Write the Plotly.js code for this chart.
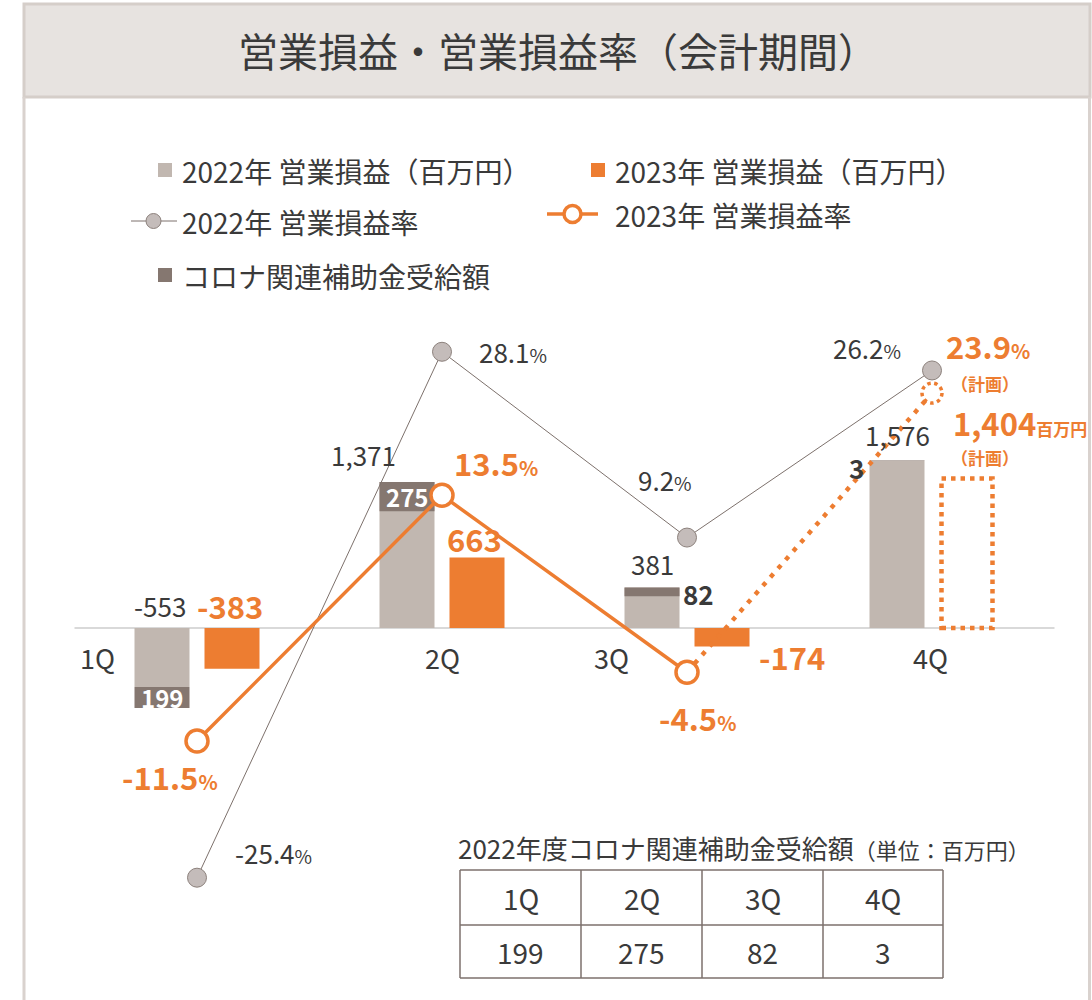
<!DOCTYPE html>
<html>
<head>
<meta charset="utf-8">
<script src="https://cdn.plot.ly/plotly-3.0.1.min.js"></script>
<style>html,body{margin:0;padding:0;background:#fff;}#chart{width:1092px;height:1000px;}</style>
</head>
<body>
<div id="chart"></div>
<script>
// ---- data ----
const quarters = ['1Q', '2Q', '3Q', '4Q'];
const income2022 = [-553, 1371, 381, 1576];
const income2023 = [-383, 663, -174, null];
const plan2023Q4 = 1404;
const subsidy2022 = [199, 275, 82, 3];
const rate2022 = [-25.4, 28.1, 9.2, 26.2];
const rate2023 = [-11.5, 13.5, -4.5, null];
const planRate2023Q4 = 23.9;

// ---- style ----
const W = 1092, H = 1000;
const FONT = '"Noto Sans CJK JP", "Noto Sans", sans-serif';
const ORANGE = '#ED7D31';
const GRAY22 = '#c1b7b0';
const DARK = '#857770';
const TXT = '#3a3a3a';
const px = v => v / W;
const py = v => 1 - v / H;
const fmt = v => v.toLocaleString('en-US');
const xs = quarters.map((q, i) => i);
const BW = 55 / 245, OFF22 = -62.5 / 245, OFF23 = 7.5 / 245;
const c22 = i => i + OFF22 + BW / 2;
const c23 = i => i + OFF23 + BW / 2;

const traces = [];
traces.push({type: 'bar', x: xs, y: income2022, width: BW, offset: OFF22,
  marker: {color: GRAY22}, name: '2022年 営業損益（百万円）', showlegend: false});
traces.push({type: 'bar', x: xs,
  y: subsidy2022.map((s, i) => income2022[i] >= 0 ? s : -s),
  base: subsidy2022.map((s, i) => income2022[i] >= 0 ? income2022[i] - s : income2022[i]),
  width: BW, offset: OFF22, marker: {color: DARK}, name: 'コロナ関連補助金受給額', showlegend: false});
traces.push({type: 'bar', x: xs, y: income2023, width: BW, offset: OFF23,
  marker: {color: ORANGE}, name: '2023年 営業損益（百万円）', showlegend: false});
traces.push({type: 'scatter', mode: 'lines+markers', x: xs, y: rate2022, yaxis: 'y2',
  line: {color: '#7d716c', width: 1},
  marker: {size: 19, color: '#c4bcba', line: {color: '#8c817c', width: 1}},
  name: '2022年 営業損益率', showlegend: false});
traces.push({type: 'scatter', mode: 'lines', x: [2, 3], y: [rate2023[2], planRate2023Q4], yaxis: 'y2',
  line: {color: ORANGE, width: 4.5, dash: '4.5px,7px'}, showlegend: false});
traces.push({type: 'scatter', mode: 'lines+markers', x: xs, y: rate2023, yaxis: 'y2',
  line: {color: ORANGE, width: 3.5},
  marker: {size: 22, color: '#fff', line: {color: ORANGE, width: 3.5}},
  name: '2023年 営業損益率', showlegend: false});

const shapes = [];
// frame
shapes.push({type: 'rect', xref: 'paper', yref: 'paper', x0: px(24), x1: px(1090), y0: py(97), y1: py(4),
  fillcolor: '#e7e3e0', line: {color: '#d5cec9', width: 3}, layer: 'below'});
shapes.push({type: 'line', xref: 'paper', yref: 'paper', x0: px(24), x1: px(24), y0: py(97), y1: py(1000),
  line: {color: '#d9d2ce', width: 3}});
shapes.push({type: 'line', xref: 'paper', yref: 'paper', x0: px(1089.5), x1: px(1089.5), y0: py(97), y1: py(1000),
  line: {color: '#d9d2ce', width: 3}});
// zero line
shapes.push({type: 'line', xref: 'x', yref: 'y', x0: -0.5, x1: 3.5, y0: 0, y1: 0,
  line: {color: '#d9d9d9', width: 2}, layer: 'below'});
// planned 4Q bar (dotted)
shapes.push({type: 'rect', xref: 'x', yref: 'y', x0: 3 + OFF23 + 2 / 245, x1: 3 + OFF23 + BW - 2 / 245, y0: 0, y1: plan2023Q4,
  line: {color: ORANGE, width: 4.5, dash: '4.5px,5px'}});
// planned rate marker (dotted circle)
shapes.push({type: 'circle', xref: 'x', yref: 'y2', xsizemode: 'pixel', ysizemode: 'pixel',
  xanchor: 3, yanchor: planRate2023Q4, x0: -10, x1: 10, y0: -10, y1: 10,
  fillcolor: '#fff', line: {color: ORANGE, width: 3.5, dash: '3.5px,3.5px'}});

// legend symbols
const sq = (x, y, color) => shapes.push({type: 'rect', xref: 'paper', yref: 'paper',
  x0: px(x), x1: px(x + 14), y0: py(y + 7), y1: py(y - 7), fillcolor: color, line: {width: 0}});
sq(158, 170, GRAY22);
sq(591, 170, ORANGE);
sq(158, 275, DARK);
shapes.push({type: 'line', xref: 'paper', yref: 'paper', x0: px(131), x1: px(177), y0: py(221), y1: py(221),
  line: {color: '#7d716c', width: 1}});
shapes.push({type: 'circle', xref: 'paper', yref: 'paper', x0: px(146), x1: px(161), y0: py(228.5), y1: py(213.5),
  fillcolor: '#c4bcba', line: {color: '#8c817c', width: 1}});
shapes.push({type: 'line', xref: 'paper', yref: 'paper', x0: px(547), x1: px(598), y0: py(214), y1: py(214),
  line: {color: ORANGE, width: 3.5}});
shapes.push({type: 'circle', xref: 'paper', yref: 'paper', x0: px(564), x1: px(581), y0: py(222.5), y1: py(205.5),
  fillcolor: '#fff', line: {color: ORANGE, width: 3.5}});

// table grid
const tx = [460, 581, 702, 823, 943], ty = [870, 925, 978];
tx.forEach(x => shapes.push({type: 'line', xref: 'paper', yref: 'paper', x0: px(x), x1: px(x), y0: py(ty[0]), y1: py(ty[2]),
  line: {color: '#7d716c', width: 1.5}}));
ty.forEach(y => shapes.push({type: 'line', xref: 'paper', yref: 'paper', x0: px(tx[0]), x1: px(tx[4]), y0: py(y), y1: py(y),
  line: {color: '#7d716c', width: 1.5}}));

const annotations = [];
const paperText = (x, y, text, size, opts = {}) => annotations.push(Object.assign({
  xref: 'paper', yref: 'paper', x: px(x), y: py(y), text: text, showarrow: false,
  xanchor: 'left', yanchor: 'middle', font: {family: FONT, size: size, color: TXT}}, opts));
const dataText = (x, y, text, size, color, xshift, yshift, opts = {}) => annotations.push(Object.assign({
  xref: 'x', yref: 'y', x: x, y: y, text: text, showarrow: false, xshift: xshift, yshift: yshift,
  xanchor: 'center', yanchor: 'middle', font: {family: FONT, size: size, color: color}}, opts));
const boldFont = (size, color) => ({family: FONT, size: size, color: color, weight: 'bold'});

// title
paperText(558, 50, '営業損益・営業損益率（会計期間）', 40, {xanchor: 'center'});
// legend texts
paperText(180, 171, '2022年 営業損益（百万円）', 28);
paperText(613, 171, '2023年 営業損益（百万円）', 28);
paperText(180, 222, '2022年 営業損益率', 28);
paperText(613, 215, '2023年 営業損益率', 28);
paperText(180, 276, 'コロナ関連補助金受給額', 28);

// quarter labels along the zero line
const qShift = [-100, 0, -76, -2];
quarters.forEach((q, i) => dataText(i, 0, q, 27, TXT, qShift[i], -29));

// 2022 bar labels
const l22 = [[-2, 23], [-44, 27], [0, 24], [0, 26]];
income2022.forEach((v, i) => dataText(c22(i), v > 0 ? v : 0, fmt(v), 26, TXT, l22[i][0], l22[i][1]));
// 2023 bar labels
const l23 = [[-2, 23], [-3, 19], [70, -28]];
income2023.forEach((v, i) => { if (v !== null) dataText(c23(i), v > 0 ? v : 0, fmt(v), 31, ORANGE, l23[i][0], l23[i][1], {font: boldFont(31, ORANGE)}); });
// subsidy labels
subsidy2022.forEach((s, i) => {
  const v = income2022[i];
  if (i < 2) {
    dataText(c22(i), v - s / 2, String(s), 24, '#fff', 0, 0, {font: boldFont(24, '#fff')});
  } else if (i === 2) {
    dataText(c22(i), v, String(s), 26, TXT, 46, -6, {font: boldFont(26, TXT)});
  } else {
    dataText(c22(i), v, String(s), 26, TXT, -41, -7, {font: boldFont(26, TXT)});
  }
});

// rate labels
const pct = (v, small) => v + '<span style="font-size:' + small + 'px">%</span>';
const r22 = [[76, 25], [71, 0], [-22, 58], [-65, 23]];
rate2022.forEach((v, i) => dataText(i, v, pct(v, 19), 26, TXT, r22[i][0], r22[i][1], {yref: 'y2'}));
const r23 = [[-27, -35], [54, 33], [10, -45]];
rate2023.forEach((v, i) => { if (v !== null) dataText(i, v, pct(v, 20), 31, ORANGE, r23[i][0], r23[i][1], {yref: 'y2', font: boldFont(31, ORANGE)}); });
dataText(3, planRate2023Q4, pct(planRate2023Q4, 20), 31, ORANGE, 56, 48, {yref: 'y2', font: boldFont(31, ORANGE)});
dataText(3, planRate2023Q4, '（計画）', 17, ORANGE, 53, 10, {yref: 'y2', font: boldFont(17, ORANGE)});
dataText(c23(3), plan2023Q4, fmt(plan2023Q4) + '<span style="font-size:17px">百万円</span>', 31, ORANGE, 53, 56, {font: boldFont(31, ORANGE)});
dataText(c23(3), plan2023Q4, '（計画）', 17, ORANGE, 18, 21, {font: boldFont(17, ORANGE)});

// table texts
paperText(456, 847, '2022年度コロナ関連補助金受給額<span style="font-size:22px">（単位：百万円）</span>', 26);
quarters.forEach((q, i) => {
  const cx = (tx[i] + tx[i + 1]) / 2;
  paperText(cx, 898, q, 28, {xanchor: 'center'});
  paperText(cx, 952, String(subsidy2022[i]), 28, {xanchor: 'center'});
});

const layout = {
  width: W, height: H, autosize: false,
  margin: {l: 0, r: 0, t: 0, b: 0, pad: 0},
  paper_bgcolor: '#fff', plot_bgcolor: 'rgba(0,0,0,0)',
  barmode: 'overlay', showlegend: false, hovermode: false,
  font: {family: FONT, color: TXT},
  xaxis: {domain: [0, 1], range: [-197 / 245, 895 / 245], visible: false, fixedrange: true},
  yaxis: {domain: [0.1, 0.7], range: [-272 / 0.1065, 328 / 0.1065], visible: false, fixedrange: true},
  yaxis2: {overlaying: 'y', range: [-272 / 9.83, 328 / 9.83], visible: false, fixedrange: true},
  shapes: shapes, annotations: annotations
};
Plotly.newPlot('chart', traces, layout, {displayModeBar: false, staticPlot: true});
</script>
</body>
</html>
